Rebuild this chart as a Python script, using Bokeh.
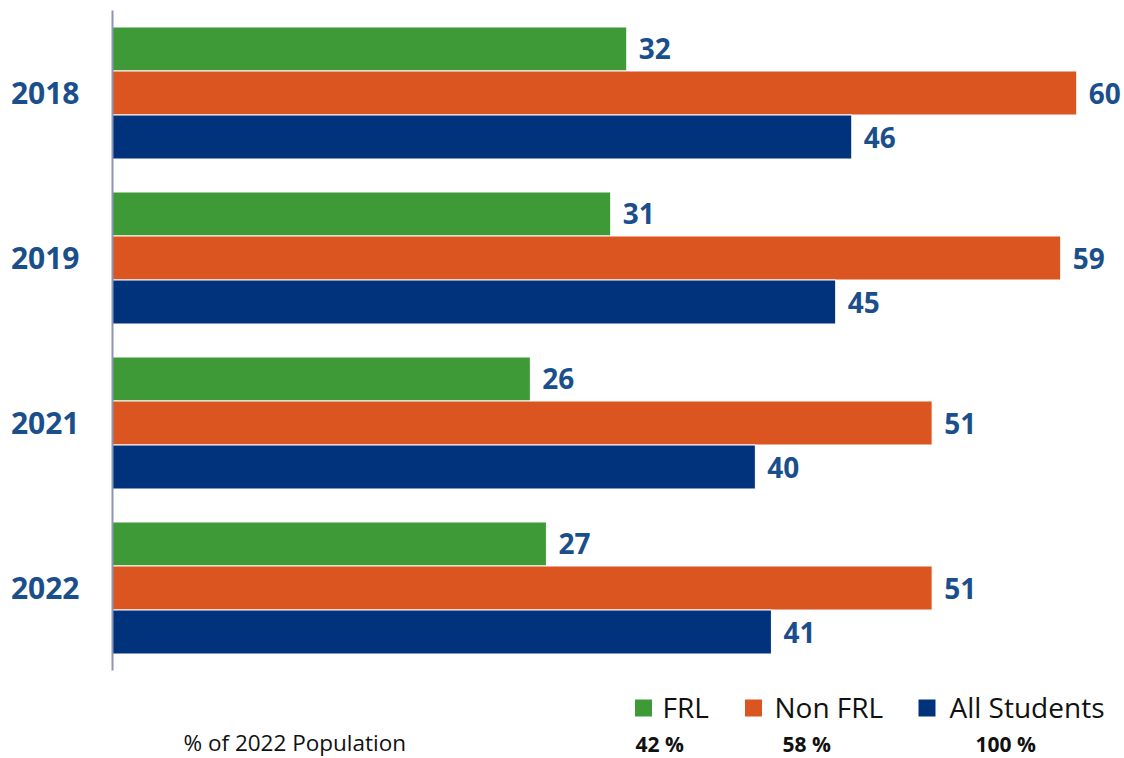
from bokeh.plotting import figure
from bokeh.models import ColumnDataSource, Range1d, FixedTicker
from bokeh.transform import dodge
from bokeh.core.properties import value
from bokeh.embed import file_html
from bokeh.resources import INLINE

# ---- data ----
years = ["2018", "2019", "2021", "2022"]
frl = [32, 31, 26, 27]
non_frl = [60, 59, 51, 51]
all_students = [46, 45, 40, 41]
series = ["FRL", "Non FRL", "All Students"]
pop_share = ["42 %", "58 %", "100 %"]
pop_caption = "% of 2022 Population"

colors = ["#3e9a36", "#da5520", "#01327c"]
label_color = "#1b4f8c"
FONT = "Open Sans"

W, H = 1124, 758
LEFT, TOP = 112, 10
PX_PER_CAT = 165.0

# ---- main chart ----
p = figure(width=W, height=H, output_backend="svg", toolbar_location=None,
           x_axis_location=None, y_axis_location="left",
           min_border_left=LEFT, min_border_top=TOP, min_border_bottom=0, min_border_right=0)
n = len(years)
p.x_range = Range1d(0, 62.97)
bottom_val = (n - 0.5) + (H - TOP - n * PX_PER_CAT) / PX_PER_CAT
p.y_range = Range1d(bottom_val, -0.5)
p.grid.visible = False
p.outline_line_color = None
p.background_fill_color = "white"
p.border_fill_color = "white"

# pixel-like helper ranges for the legend / population row
p.extra_x_ranges = {"px": Range1d(LEFT, W)}
p.extra_y_ranges = {"px": Range1d(H, TOP)}

ax = p.yaxis[0]
ax.ticker = FixedTicker(ticks=list(range(n)))
ax.bounds = (-0.5, n - 0.5)
ax.major_label_overrides = {i: y for i, y in enumerate(years)}
ax.major_tick_line_color = None
ax.minor_tick_line_color = None
ax.axis_line_color = "#8b95b5"
ax.axis_line_width = 2
ax.major_label_standoff = 27
ax.major_label_text_font = FONT
ax.major_label_text_font_style = "bold"
ax.major_label_text_font_size = "30px"
ax.major_label_text_color = label_color

src = ColumnDataSource(dict(
    idx=list(range(n)),
    frl=frl, non_frl=non_frl, all_students=all_students,
    frl_t=[str(v) for v in frl], non_frl_t=[str(v) for v in non_frl],
    all_t=[str(v) for v in all_students],
))

bh = 0.2667
cols = [("frl", "frl_t"), ("non_frl", "non_frl_t"), ("all_students", "all_t")]
for k, (col, tcol) in enumerate(cols):
    off = (k - 1) * bh
    p.hbar(y=dodge("idx", off, range=p.y_range), right=col, left=0, height=bh,
           source=src, fill_color=colors[k], line_color="white", line_width=1)
    p.text(x=col, y=dodge("idx", off, range=p.y_range), text=tcol, source=src,
           x_offset=12, text_baseline="middle", text_align="left",
           text_font=value(FONT), text_font_style="bold", text_font_size="28px",
           text_color=label_color)

# ---- legend + population row ----
leg_sq_x = [643, 753, 926.5]
leg_txt_x = [662, 774, 949]
pct_x = [635, 782, 975]
p.rect(x=leg_sq_x, y=[707.5] * 3, width=17, height=17, width_units="screen", height_units="screen",
       fill_color=colors, line_color=None, x_range_name="px", y_range_name="px")
p.text(x=leg_txt_x, y=[706] * 3, text=series, text_baseline="middle",
       text_font=value(FONT), text_font_size="28px", text_color="#111111",
       x_range_name="px", y_range_name="px")
p.text(x=pct_x, y=[743] * 3, text=pop_share, text_baseline="middle",
       text_font=value(FONT), text_font_style="bold", text_font_size="21px", text_color="#111111",
       x_range_name="px", y_range_name="px")
p.text(x=[183], y=[742], text=[pop_caption], text_baseline="middle",
       text_font=value(FONT), text_font_size="22.5px", text_color="#111111",
       x_range_name="px", y_range_name="px")

open("out.html", "w").write(file_html(p, INLINE))
